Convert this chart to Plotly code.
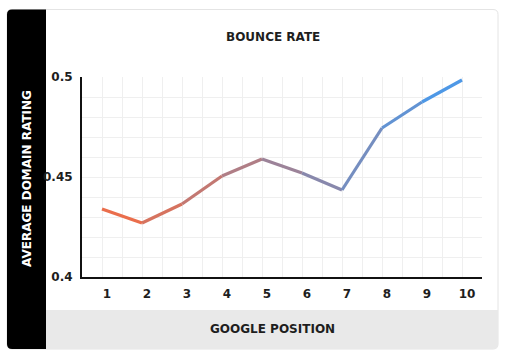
import plotly.graph_objects as go

# ---- data ----
positions = [1, 2, 3, 4, 5, 6, 7, 8, 9, 10]
domain_rating = [0.434, 0.427, 0.4365, 0.4505, 0.459, 0.452, 0.4435, 0.4745, 0.4875, 0.4985]
x_tick_labels = ["1", "2", "3", "4", "5", "6", "7", "8", "9", "10"]
y_tick_vals = [0.4, 0.45, 0.5]
y_tick_labels = ["0.4", "0.45", "0.5"]

title_text = "BOUNCE RATE"
x_title = "GOOGLE POSITION"
y_title = "AVERAGE DOMAIN RATING"

W, H = 506, 357
L, R, T, B = 82, 24, 77, 80
PW, PH = W - L - R, H - T - B

def px(x):
    return (x - L) / PW

def py(y):
    return (H - B - y) / PH

start_rgb = (234, 110, 76)
end_rgb = (78, 152, 230)

def mix(t):
    c = [round(s + (e - s) * t) for s, e in zip(start_rgb, end_rgb)]
    return f"rgb({c[0]},{c[1]},{c[2]})"

fig = go.Figure()
n = len(positions)
for i in range(n - 1):
    t = i / (n - 2)
    fig.add_trace(go.Scatter(
        x=positions[i:i + 2], y=domain_rating[i:i + 2], mode="lines",
        line=dict(color=mix(t), width=3.2), hoverinfo="skip", showlegend=False,
    ))

FONT = "DejaVu Sans"
r = 5

def rounded(x0, y0, x1, y1, rad, corners=(True, True, True, True)):
    tl, tr, br, bl = corners
    p = []
    p.append(f"M{px(x0 + (rad if tl else 0))},{py(y0)}")
    if tr:
        p.append(f"L{px(x1 - rad)},{py(y0)} Q{px(x1)},{py(y0)} {px(x1)},{py(y0 + rad)}")
    else:
        p.append(f"L{px(x1)},{py(y0)}")
    if br:
        p.append(f"L{px(x1)},{py(y1 - rad)} Q{px(x1)},{py(y1)} {px(x1 - rad)},{py(y1)}")
    else:
        p.append(f"L{px(x1)},{py(y1)}")
    if bl:
        p.append(f"L{px(x0 + rad)},{py(y1)} Q{px(x0)},{py(y1)} {px(x0)},{py(y1 - rad)}")
    else:
        p.append(f"L{px(x0)},{py(y1)}")
    if tl:
        p.append(f"L{px(x0)},{py(y0 + rad)} Q{px(x0)},{py(y0)} {px(x0 + rad)},{py(y0)}")
    else:
        p.append(f"L{px(x0)},{py(y0)}")
    p.append("Z")
    return " ".join(p)

shapes = [
    dict(type="path", xref="paper", yref="paper", path=rounded(7, 9.5, 498, 349, r),
         fillcolor="white", line=dict(color="#e4e4e4", width=1), layer="below"),
    dict(type="path", xref="paper", yref="paper", path=rounded(46, 310, 498, 349, r, (False, False, True, False)),
         fillcolor="#e9e9e9", line=dict(width=0), layer="below"),
    dict(type="path", xref="paper", yref="paper", path=rounded(7, 9.5, 46, 349, r, (True, False, False, True)),
         fillcolor="#000000", line=dict(width=0), layer="below"),
]

annotations = [
    dict(text=title_text, x=px(273), y=py(37), xref="paper", yref="paper", showarrow=False,
         font=dict(family=FONT, size=12, color="#1e1e1e", weight="bold"), xanchor="center", yanchor="middle"),
    dict(text=x_title, x=px(272), y=py(329), xref="paper", yref="paper", showarrow=False,
         font=dict(family=FONT, size=12, color="#1e1e1e", weight="bold"), xanchor="center", yanchor="middle"),
    dict(text=y_title, x=px(27), y=py(178), xref="paper", yref="paper", showarrow=False, textangle=-90,
         font=dict(family=FONT, size=12, color="#ffffff", weight="bold"), xanchor="center", yanchor="middle"),
]

fig.update_layout(
    width=W, height=H,
    margin=dict(l=L, r=R, t=T, b=B, pad=0),
    paper_bgcolor="white", plot_bgcolor="rgba(0,0,0,0)",
    shapes=shapes, annotations=annotations,
    showlegend=False,
    xaxis=dict(
        range=[0.5, 10.5], tickmode="array", tickvals=positions, ticktext=x_tick_labels,
        showgrid=True, gridcolor="#efefef", gridwidth=1,
        minor=dict(tickvals=[p - 0.5 for p in positions] + [positions[-1] + 0.5], showgrid=True,
                   gridcolor="#efefef", gridwidth=1),
        showline=True, linecolor="#111111", linewidth=2, ticks="", zeroline=False,
        tickfont=dict(family=FONT, size=12, color="#1e1e1e", weight="bold"),
        ticklabelshift=5, ticklabelstandoff=5, fixedrange=True,
    ),
    yaxis=dict(
        range=[0.4, 0.5], tickmode="array", tickvals=y_tick_vals, ticktext=y_tick_labels,
        showgrid=True, gridcolor="#efefef", gridwidth=1,
        minor=dict(dtick=0.01, tick0=0.4, showgrid=True, gridcolor="#efefef", gridwidth=1),
        showline=True, linecolor="#111111", linewidth=2, ticks="", zeroline=False,
        tickfont=dict(family=FONT, size=12, color="#1e1e1e", weight="bold"),
        ticklabelstandoff=5, fixedrange=True,
    ),
)

fig.write_html("out.html")
